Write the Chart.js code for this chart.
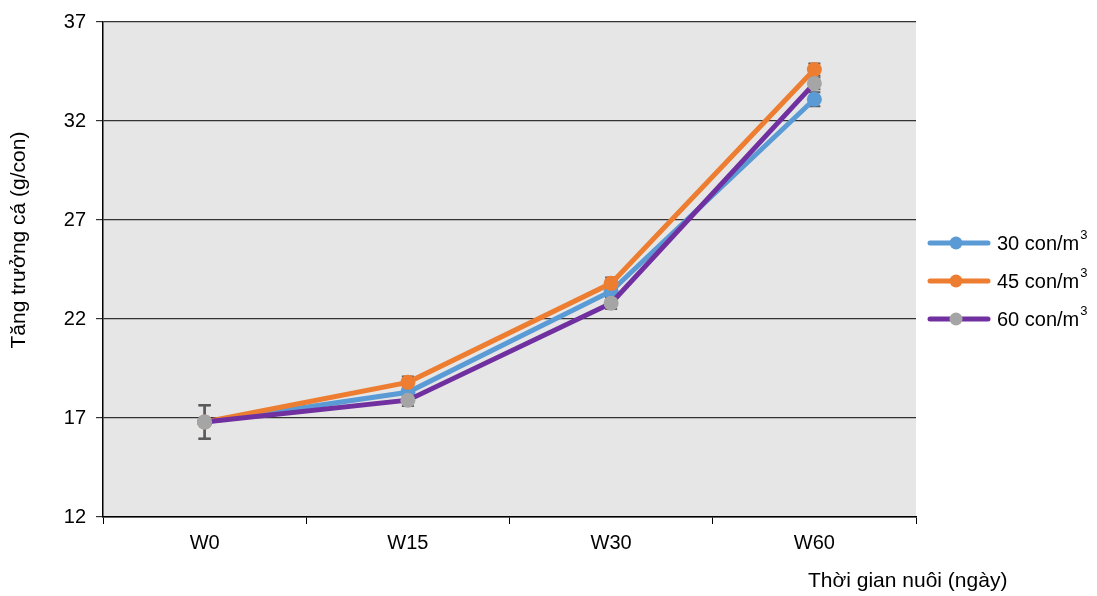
<!DOCTYPE html>
<html>
<head>
<meta charset="utf-8">
<script src="https://cdn.jsdelivr.net/npm/chart.js@4.4.1/dist/chart.umd.min.js"></script>
<style>
  html, body { margin: 0; padding: 0; background: #fff; }
  #wrap { width: 1097px; height: 596px; }
</style>
</head>
<body>
<div id="wrap"><canvas id="growthChart"></canvas></div>
<script>
// data
const weeks = ['W0', 'W15', 'W30', 'W60'];
const density30 = [16.8, 18.3, 23.4, 33.1];
const density45 = [16.8, 18.8, 23.8, 34.6];
const density60 = [16.8, 17.9, 22.8, 33.9];
const err30 = [0.85, 0.3, 0.3, 0.35];
const err45 = [0.85, 0.3, 0.3, 0.3];
const err60 = [0.85, 0.3, 0.3, 0.3];
const yTicks = [12, 17, 22, 27, 32, 37];

const FONT = '"Liberation Sans", Arial, sans-serif';

// grey plot area
const plotBackground = {
    id: 'plotBackground',
    beforeDraw(chart) {
        const { ctx, chartArea: a } = chart;
        ctx.save();
        ctx.fillStyle = '#e6e6e6';
        ctx.fillRect(a.left, a.top, a.right - a.left, a.bottom - a.top);
        ctx.restore();
    }
};

// error bars under the markers
const errorBars = {
    id: 'errorBars',
    beforeDatasetsDraw(chart) {
        const { ctx, scales } = chart;
        ctx.save();
        ctx.strokeStyle = '#595959';
        ctx.lineWidth = 2;
        chart.data.datasets.forEach(ds => {
            ds.data.forEach((v, i) => {
                const x = scales.x.getPixelForValue(i);
                const hi = scales.y.getPixelForValue(v + ds.errors[i]);
                const lo = scales.y.getPixelForValue(v - ds.errors[i]);
                ctx.beginPath();
                ctx.moveTo(x, hi); ctx.lineTo(x, lo);
                ctx.moveTo(x - 6, hi); ctx.lineTo(x + 6, hi);
                ctx.moveTo(x - 6, lo); ctx.lineTo(x + 6, lo);
                ctx.stroke();
            });
        });
        ctx.restore();
    }
};

// axis titles and the right hand legend
const extras = {
    id: 'extras',
    afterDraw(chart) {
        const { ctx } = chart;
        ctx.save();
        ctx.fillStyle = '#000';
        ctx.font = '21px ' + FONT;
        ctx.textBaseline = 'middle';

        ctx.save();
        ctx.translate(19, 240);
        ctx.rotate(-Math.PI / 2);
        ctx.textAlign = 'center';
        ctx.fillText('Tăng trưởng cá (g/con)', 0, 0);
        ctx.restore();

        ctx.textAlign = 'left';
        ctx.fillText('Thời gian nuôi (ngày)', 808, 581);

        chart.data.datasets.forEach((ds, i) => {
            const y = 243 + i * 38;
            ctx.strokeStyle = ds.borderColor;
            ctx.lineWidth = 5;
            ctx.lineCap = 'round';
            ctx.beginPath();
            ctx.moveTo(930, y); ctx.lineTo(988, y);
            ctx.stroke();
            ctx.fillStyle = ds.pointBackgroundColor;
            ctx.beginPath();
            ctx.arc(956, y, 6.5, 0, Math.PI * 2);
            ctx.fill();

            ctx.fillStyle = '#000';
            ctx.font = '20px ' + FONT;
            ctx.fillText(ds.label, 997, y + 1);
            const w = ctx.measureText(ds.label).width;
            ctx.font = '13px ' + FONT;
            ctx.fillText('3', 997 + w + 1, y - 8);
        });
        ctx.restore();
    }
};

new Chart(document.getElementById('growthChart'), {
    type: 'line',
    data: {
        labels: weeks,
        datasets: [
            { label: '30 con/m', data: density30, errors: err30, borderColor: '#5b9bd5',
              pointBackgroundColor: '#5b9bd5', order: 2 },
            { label: '45 con/m', data: density45, errors: err45, borderColor: '#ed7d31',
              pointBackgroundColor: '#ed7d31', order: 1 },
            { label: '60 con/m', data: density60, errors: err60, borderColor: '#7030a0',
              pointBackgroundColor: '#a5a5a5', order: 0 }
        ].map(ds => Object.assign({
            borderWidth: 5,
            pointRadius: 7.5,
            pointBorderWidth: 0,
            pointBorderColor: ds.pointBackgroundColor,
            tension: 0,
            fill: false
        }, ds))
    },
    options: {
        responsive: true,
        maintainAspectRatio: false,
        animation: false,
        layout: { padding: { left: 0, right: 181, top: 20, bottom: 0 } },
        plugins: { legend: { display: false }, tooltip: { enabled: false } },
        scales: {
            x: {
                offset: true,
                grid: { offset: true, drawOnChartArea: false, color: '#000', tickLength: 7, lineWidth: 1 },
                border: { color: '#000', width: 1.5 },
                ticks: { color: '#000', font: { family: FONT, size: 20 }, padding: 7 },
                afterFit(scale) { scale.height = 79; }
            },
            y: {
                min: 12,
                max: 37,
                afterBuildTicks(scale) { scale.ticks = yTicks.map(v => ({ value: v })); },
                grid: { color: '#333', tickLength: 7, lineWidth: 1.2 },
                border: { color: '#000', width: 1.5 },
                ticks: { color: '#000', font: { family: FONT, size: 20 }, padding: 10 },
                afterFit(scale) { scale.width = 103; }
            }
        }
    },
    plugins: [plotBackground, errorBars, extras]
});
</script>
</body>
</html>
